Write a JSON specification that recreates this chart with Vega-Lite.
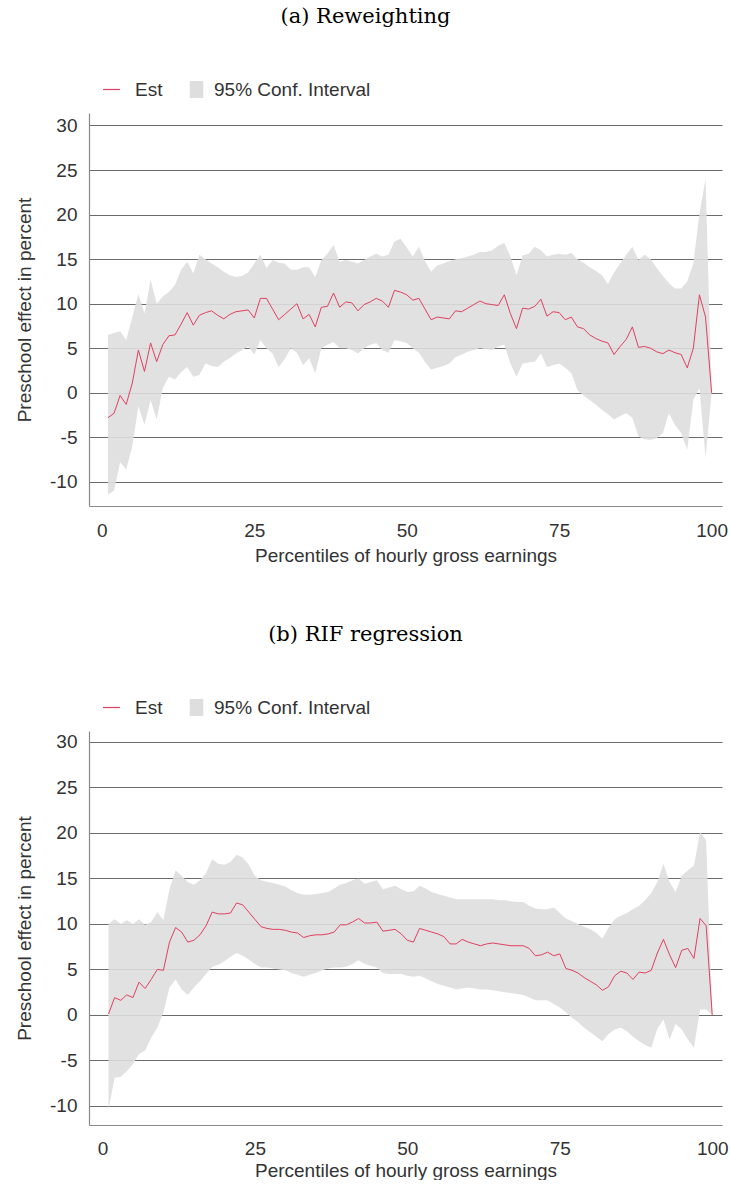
{
  "$schema": "https://vega.github.io/schema/vega-lite/v6.json",
  "padding": {"top": 6, "left": 15, "right": 0, "bottom": 0},
  "background": "white",
  "datasets": {
    "a": [
      {"p":1,"est":-2.8,"lo":-11.4,"hi":6.5},{"p":2,"est":-2.3,"lo":-11.0,"hi":6.7},{"p":3,"est":-0.3,"lo":-7.8,"hi":6.9},{"p":4,"est":-1.3,"lo":-8.6,"hi":5.9},{"p":5,"est":1.1,"lo":-6.0,"hi":8.5},
      {"p":6,"est":4.8,"lo":-1.5,"hi":11.1},{"p":7,"est":2.4,"lo":-3.6,"hi":8.9},{"p":8,"est":5.6,"lo":-0.8,"hi":12.7},{"p":9,"est":3.5,"lo":-3.0,"hi":10.0},{"p":10,"est":5.4,"lo":0.5,"hi":10.8},
      {"p":11,"est":6.4,"lo":1.8,"hi":11.3},{"p":12,"est":6.5,"lo":1.5,"hi":12.1},{"p":13,"est":7.7,"lo":2.3,"hi":13.8},{"p":14,"est":9.0,"lo":2.9,"hi":14.7},{"p":15,"est":7.6,"lo":1.8,"hi":13.4},
      {"p":16,"est":8.7,"lo":2.0,"hi":15.5},{"p":17,"est":9.0,"lo":3.3,"hi":15.0},{"p":18,"est":9.2,"lo":3.0,"hi":14.5},{"p":19,"est":8.7,"lo":2.9,"hi":14.1},{"p":20,"est":8.3,"lo":3.5,"hi":13.6},
      {"p":21,"est":8.8,"lo":3.9,"hi":13.2},{"p":22,"est":9.1,"lo":4.4,"hi":13.0},{"p":23,"est":9.2,"lo":4.8,"hi":13.1},{"p":24,"est":9.3,"lo":5.2,"hi":13.5},{"p":25,"est":8.4,"lo":4.3,"hi":14.5},
      {"p":26,"est":10.6,"lo":5.9,"hi":15.5},{"p":27,"est":10.6,"lo":5.0,"hi":14.0},{"p":28,"est":9.4,"lo":4.4,"hi":14.9},{"p":29,"est":8.2,"lo":2.9,"hi":14.6},{"p":30,"est":8.8,"lo":3.8,"hi":14.5},
      {"p":31,"est":9.4,"lo":5.0,"hi":13.8},{"p":32,"est":10.0,"lo":4.5,"hi":13.8},{"p":33,"est":8.3,"lo":3.1,"hi":14.1},{"p":34,"est":8.8,"lo":3.9,"hi":14.1},{"p":35,"est":7.4,"lo":2.2,"hi":13.0},
      {"p":36,"est":9.6,"lo":5.0,"hi":14.9},{"p":37,"est":9.7,"lo":5.4,"hi":15.6},{"p":38,"est":11.2,"lo":5.7,"hi":16.6},{"p":39,"est":9.6,"lo":5.0,"hi":14.7},{"p":40,"est":10.2,"lo":5.0,"hi":14.9},
      {"p":41,"est":10.1,"lo":4.8,"hi":14.7},{"p":42,"est":9.2,"lo":4.4,"hi":14.5},{"p":43,"est":9.9,"lo":5.0,"hi":14.9},{"p":44,"est":10.2,"lo":5.4,"hi":15.3},{"p":45,"est":10.6,"lo":5.6,"hi":15.6},
      {"p":46,"est":10.3,"lo":4.8,"hi":15.3},{"p":47,"est":9.6,"lo":4.5,"hi":15.5},{"p":48,"est":11.5,"lo":5.9,"hi":17.0},{"p":49,"est":11.3,"lo":5.8,"hi":17.3},{"p":50,"est":11.0,"lo":5.6,"hi":16.3},
      {"p":51,"est":10.4,"lo":5.0,"hi":15.3},{"p":52,"est":10.6,"lo":4.5,"hi":16.4},{"p":53,"est":9.4,"lo":3.5,"hi":14.8},{"p":54,"est":8.2,"lo":2.6,"hi":13.6},{"p":55,"est":8.5,"lo":2.8,"hi":14.3},
      {"p":56,"est":8.4,"lo":3.0,"hi":14.5},{"p":57,"est":8.3,"lo":3.3,"hi":14.8},{"p":58,"est":9.2,"lo":4.0,"hi":15.0},{"p":59,"est":9.1,"lo":4.3,"hi":15.1},{"p":60,"est":9.5,"lo":4.6,"hi":15.3},
      {"p":61,"est":9.9,"lo":4.8,"hi":15.5},{"p":62,"est":10.3,"lo":5.0,"hi":15.8},{"p":63,"est":10.0,"lo":4.9,"hi":15.8},{"p":64,"est":9.9,"lo":4.8,"hi":16.0},{"p":65,"est":9.8,"lo":5.2,"hi":16.5},
      {"p":66,"est":11.0,"lo":5.4,"hi":16.8},{"p":67,"est":8.9,"lo":3.3,"hi":15.3},{"p":68,"est":7.2,"lo":1.8,"hi":13.2},{"p":69,"est":9.5,"lo":3.3,"hi":15.4},{"p":70,"est":9.4,"lo":3.4,"hi":15.6},
      {"p":71,"est":9.7,"lo":3.5,"hi":16.4},{"p":72,"est":10.5,"lo":4.4,"hi":16.0},{"p":73,"est":8.6,"lo":2.9,"hi":15.3},{"p":74,"est":9.1,"lo":3.1,"hi":15.5},{"p":75,"est":9.0,"lo":3.3,"hi":15.6},
      {"p":76,"est":8.2,"lo":2.8,"hi":15.5},{"p":77,"est":8.5,"lo":2.2,"hi":15.7},{"p":78,"est":7.4,"lo":0.3,"hi":15.0},{"p":79,"est":7.2,"lo":-0.3,"hi":14.6},{"p":80,"est":6.5,"lo":-0.8,"hi":14.1},
      {"p":81,"est":6.1,"lo":-1.3,"hi":13.7},{"p":82,"est":5.8,"lo":-1.9,"hi":13.2},{"p":83,"est":5.6,"lo":-2.4,"hi":12.2},{"p":84,"est":4.3,"lo":-3.0,"hi":13.5},{"p":85,"est":5.2,"lo":-2.6,"hi":14.5},
      {"p":86,"est":6.0,"lo":-2.3,"hi":15.5},{"p":87,"est":7.4,"lo":-2.8,"hi":16.4},{"p":88,"est":5.1,"lo":-4.9,"hi":14.9},{"p":89,"est":5.2,"lo":-5.2,"hi":15.5},{"p":90,"est":5.0,"lo":-5.3,"hi":15.0},
      {"p":91,"est":4.6,"lo":-5.1,"hi":14.0},{"p":92,"est":4.4,"lo":-4.5,"hi":13.1},{"p":93,"est":4.8,"lo":-2.3,"hi":12.3},{"p":94,"est":4.5,"lo":-3.6,"hi":11.7},{"p":95,"est":4.3,"lo":-4.5,"hi":11.7},
      {"p":96,"est":2.8,"lo":-6.4,"hi":12.5},{"p":97,"est":5.0,"lo":-0.8,"hi":14.5},{"p":98,"est":11.0,"lo":0.5,"hi":20.1},{"p":99,"est":8.5,"lo":-7.3,"hi":24.0},{"p":100,"est":0,"lo":0,"hi":0}
    ],
    "b": [
      {"p":1,"est":0.1,"lo":-10.4,"hi":10.0},{"p":2,"est":1.9,"lo":-6.9,"hi":10.5},{"p":3,"est":1.6,"lo":-6.8,"hi":10.0},{"p":4,"est":2.2,"lo":-6.2,"hi":10.4},{"p":5,"est":1.9,"lo":-5.4,"hi":10.0},
      {"p":6,"est":3.6,"lo":-4.3,"hi":10.5},{"p":7,"est":2.9,"lo":-3.9,"hi":9.9},{"p":8,"est":3.9,"lo":-2.5,"hi":10.2},{"p":9,"est":5.0,"lo":-1.4,"hi":11.3},{"p":10,"est":4.9,"lo":0.3,"hi":10.4},
      {"p":11,"est":8.0,"lo":3.0,"hi":13.8},{"p":12,"est":9.6,"lo":3.9,"hi":15.9},{"p":13,"est":9.1,"lo":2.8,"hi":15.3},{"p":14,"est":8.0,"lo":2.2,"hi":14.6},{"p":15,"est":8.2,"lo":3.0,"hi":14.3},
      {"p":16,"est":8.8,"lo":3.7,"hi":14.8},{"p":17,"est":9.8,"lo":4.5,"hi":15.6},{"p":18,"est":11.3,"lo":5.3,"hi":17.1},{"p":19,"est":11.1,"lo":5.5,"hi":16.6},{"p":20,"est":11.1,"lo":5.9,"hi":16.5},
      {"p":21,"est":11.2,"lo":6.4,"hi":16.8},{"p":22,"est":12.3,"lo":6.8,"hi":17.6},{"p":23,"est":12.1,"lo":6.5,"hi":17.3},{"p":24,"est":11.3,"lo":6.1,"hi":16.5},{"p":25,"est":10.5,"lo":5.6,"hi":15.3},
      {"p":26,"est":9.7,"lo":5.2,"hi":14.8},{"p":27,"est":9.5,"lo":5.2,"hi":14.6},{"p":28,"est":9.4,"lo":5.1,"hi":14.5},{"p":29,"est":9.4,"lo":5.0,"hi":14.3},{"p":30,"est":9.3,"lo":4.9,"hi":14.1},
      {"p":31,"est":9.1,"lo":4.6,"hi":13.7},{"p":32,"est":9.0,"lo":4.4,"hi":13.4},{"p":33,"est":8.5,"lo":4.2,"hi":13.2},{"p":34,"est":8.7,"lo":4.4,"hi":13.2},{"p":35,"est":8.8,"lo":4.6,"hi":13.3},
      {"p":36,"est":8.8,"lo":4.9,"hi":13.4},{"p":37,"est":8.9,"lo":5.1,"hi":13.5},{"p":38,"est":9.1,"lo":5.2,"hi":13.9},{"p":39,"est":9.9,"lo":5.2,"hi":14.3},{"p":40,"est":9.9,"lo":5.3,"hi":14.5},
      {"p":41,"est":10.2,"lo":5.6,"hi":14.8},{"p":42,"est":10.6,"lo":6.0,"hi":15.0},{"p":43,"est":10.1,"lo":5.6,"hi":14.4},{"p":44,"est":10.1,"lo":5.4,"hi":14.6},{"p":45,"est":10.2,"lo":5.2,"hi":14.8},
      {"p":46,"est":9.2,"lo":4.6,"hi":13.8},{"p":47,"est":9.3,"lo":4.5,"hi":14.0},{"p":48,"est":9.4,"lo":4.5,"hi":14.2},{"p":49,"est":8.9,"lo":4.5,"hi":13.8},{"p":50,"est":8.2,"lo":4.3,"hi":13.5},
      {"p":51,"est":8.0,"lo":4.2,"hi":13.6},{"p":52,"est":9.5,"lo":4.3,"hi":14.2},{"p":53,"est":9.3,"lo":4.0,"hi":13.9},{"p":54,"est":9.1,"lo":3.7,"hi":13.5},{"p":55,"est":8.9,"lo":3.4,"hi":13.3},
      {"p":56,"est":8.6,"lo":3.2,"hi":13.1},{"p":57,"est":7.8,"lo":3.0,"hi":12.9},{"p":58,"est":7.8,"lo":2.8,"hi":12.7},{"p":59,"est":8.3,"lo":2.9,"hi":12.7},{"p":60,"est":8.0,"lo":3.0,"hi":12.7},
      {"p":61,"est":7.8,"lo":2.9,"hi":12.7},{"p":62,"est":7.6,"lo":2.8,"hi":12.7},{"p":63,"est":7.8,"lo":2.8,"hi":12.7},{"p":64,"est":7.9,"lo":2.7,"hi":12.7},{"p":65,"est":7.8,"lo":2.6,"hi":12.6},
      {"p":66,"est":7.7,"lo":2.5,"hi":12.6},{"p":67,"est":7.6,"lo":2.4,"hi":12.5},{"p":68,"est":7.6,"lo":2.3,"hi":12.4},{"p":69,"est":7.6,"lo":2.2,"hi":12.4},{"p":70,"est":7.3,"lo":1.9,"hi":12.0},
      {"p":71,"est":6.5,"lo":1.6,"hi":11.7},{"p":72,"est":6.6,"lo":1.6,"hi":11.6},{"p":73,"est":6.9,"lo":1.6,"hi":11.6},{"p":74,"est":6.5,"lo":1.2,"hi":11.8},{"p":75,"est":6.7,"lo":0.8,"hi":11.2},
      {"p":76,"est":5.1,"lo":0.3,"hi":10.6},{"p":77,"est":4.9,"lo":-0.3,"hi":10.3},{"p":78,"est":4.6,"lo":-0.8,"hi":10.0},{"p":79,"est":4.1,"lo":-1.4,"hi":9.7},{"p":80,"est":3.7,"lo":-1.9,"hi":9.4},
      {"p":81,"est":3.3,"lo":-2.4,"hi":9.0},{"p":82,"est":2.7,"lo":-2.9,"hi":8.4},{"p":83,"est":3.1,"lo":-2.1,"hi":9.6},{"p":84,"est":4.3,"lo":-1.6,"hi":10.5},{"p":85,"est":4.8,"lo":-1.4,"hi":10.9},
      {"p":86,"est":4.6,"lo":-1.8,"hi":11.2},{"p":87,"est":3.9,"lo":-2.4,"hi":11.6},{"p":88,"est":4.7,"lo":-2.9,"hi":12.0},{"p":89,"est":4.6,"lo":-3.3,"hi":12.6},{"p":90,"est":4.9,"lo":-3.6,"hi":13.4},
      {"p":91,"est":6.8,"lo":-1.5,"hi":14.6},{"p":92,"est":8.3,"lo":-0.5,"hi":16.6},{"p":93,"est":6.6,"lo":-2.7,"hi":14.6},{"p":94,"est":5.2,"lo":-1.0,"hi":13.5},{"p":95,"est":7.1,"lo":-1.6,"hi":15.3},
      {"p":96,"est":7.3,"lo":-2.7,"hi":15.9},{"p":97,"est":6.2,"lo":-3.6,"hi":16.4},{"p":98,"est":10.6,"lo":0.6,"hi":20.1},{"p":99,"est":9.8,"lo":0.6,"hi":19.2},{"p":100,"est":0,"lo":0,"hi":0}
    ]
  },
  "config": {
    "view": {"stroke": null},
    "axis": {
      "labelFont": "Liberation Sans", "labelFontSize": 19, "labelColor": "#333333",
      "titleFont": "Liberation Sans", "titleFontSize": 19, "titleFontWeight": "normal", "titleColor": "#333333",
      "ticks": false, "tickSize": 0, "domainColor": "#8a8a8a", "domainWidth": 1.2,
      "gridColor": "#6b6b6b", "gridWidth": 1, "gridOpacity": 1
    },
    "legend": {
      "labelFont": "Liberation Sans", "labelFontSize": 19, "labelColor": "#333333"
    },
    "title": {"font": "DejaVu Serif", "fontSize": 21, "fontWeight": "normal", "color": "#000000", "anchor": "middle", "dx": -40, "offset": 53}
  },
  "spacing": 59,
  "resolve": {"scale": {"fill": "independent", "stroke": "independent"}, "legend": {"fill": "independent", "stroke": "independent"}},
  "vconcat": [
    {
      "title": {"text": "(a) Reweighting"},
      "width": 633, "height": 393,
      "data": {"name": "a"},
      "layer": [
        {
          "mark": {"type": "area", "opacity": 0.9, "interpolate": "linear"},
          "encoding": {
            "x": {"field": "p", "type": "quantitative", "scale": {"domain": [-2.1, 101.7], "nice": false, "zero": false},
                  "axis": {"values": [0, 25, 50, 75, 100], "grid": false, "title": "Percentiles of hourly gross earnings", "labelPadding": 15, "titlePadding": 6}},
            "y": {"field": "lo", "type": "quantitative", "scale": {"domain": [-12.7, 31.4], "nice": false, "zero": false},
                  "axis": {"values": [-10, -5, 0, 5, 10, 15, 20, 25, 30], "labelExpr": "'' + datum.value", "grid": true, "title": "Preschool effect in percent", "labelPadding": 12, "titlePadding": 15}},
            "y2": {"field": "hi"},
            "fill": {"datum": "95% Conf. Interval", "type": "nominal",
                     "scale": {"domain": ["95% Conf. Interval"], "range": ["#dedede"]},
                     "legend": {"orient": "none", "legendX": 98, "legendY": -33, "title": null, "symbolType": "M-0.8,-1H0.8V1H-0.8Z", "symbolSize": 289, "symbolOpacity": 1, "symbolStrokeWidth": 0, "labelOffset": 8}}
          }
        },
        {
          "mark": {"type": "line", "strokeWidth": 1},
          "encoding": {
            "x": {"field": "p", "type": "quantitative"},
            "y": {"field": "est", "type": "quantitative", "title": "Preschool effect in percent"},
            "stroke": {"datum": "Est", "type": "nominal",
                       "scale": {"domain": ["Est"], "range": ["#e0405f"]},
                       "legend": {"orient": "none", "legendX": 13, "legendY": -33, "title": null, "symbolType": "stroke", "symbolSize": 289, "symbolStrokeWidth": 1.2, "labelOffset": 14}}
          }
        }
      ]
    },
    {
      "title": {"text": "(b) RIF regression"},
      "width": 633, "height": 394,
      "data": {"name": "b"},
      "layer": [
        {
          "mark": {"type": "area", "opacity": 0.9, "interpolate": "linear"},
          "encoding": {
            "x": {"field": "p", "type": "quantitative", "scale": {"domain": [-2.2, 101.6], "nice": false, "zero": false},
                  "axis": {"values": [0, 25, 50, 75, 100], "grid": false, "title": "Percentiles of hourly gross earnings", "labelPadding": 14, "titlePadding": 3}},
            "y": {"field": "lo", "type": "quantitative", "scale": {"domain": [-12.1, 31.2], "nice": false, "zero": false},
                  "axis": {"values": [-10, -5, 0, 5, 10, 15, 20, 25, 30], "labelExpr": "'' + datum.value", "grid": true, "title": "Preschool effect in percent", "labelPadding": 12, "titlePadding": 15}},
            "y2": {"field": "hi"},
            "fill": {"datum": "95% Conf. Interval", "type": "nominal",
                     "scale": {"domain": ["95% Conf. Interval"], "range": ["#dedede"]},
                     "legend": {"orient": "none", "legendX": 98, "legendY": -33, "title": null, "symbolType": "M-0.8,-1H0.8V1H-0.8Z", "symbolSize": 289, "symbolOpacity": 1, "symbolStrokeWidth": 0, "labelOffset": 8}}
          }
        },
        {
          "mark": {"type": "line", "strokeWidth": 1},
          "encoding": {
            "x": {"field": "p", "type": "quantitative"},
            "y": {"field": "est", "type": "quantitative", "title": "Preschool effect in percent"},
            "stroke": {"datum": "Est", "type": "nominal",
                       "scale": {"domain": ["Est"], "range": ["#e0405f"]},
                       "legend": {"orient": "none", "legendX": 13, "legendY": -33, "title": null, "symbolType": "stroke", "symbolSize": 289, "symbolStrokeWidth": 1.2, "labelOffset": 14}}
          }
        }
      ]
    }
  ]
}
